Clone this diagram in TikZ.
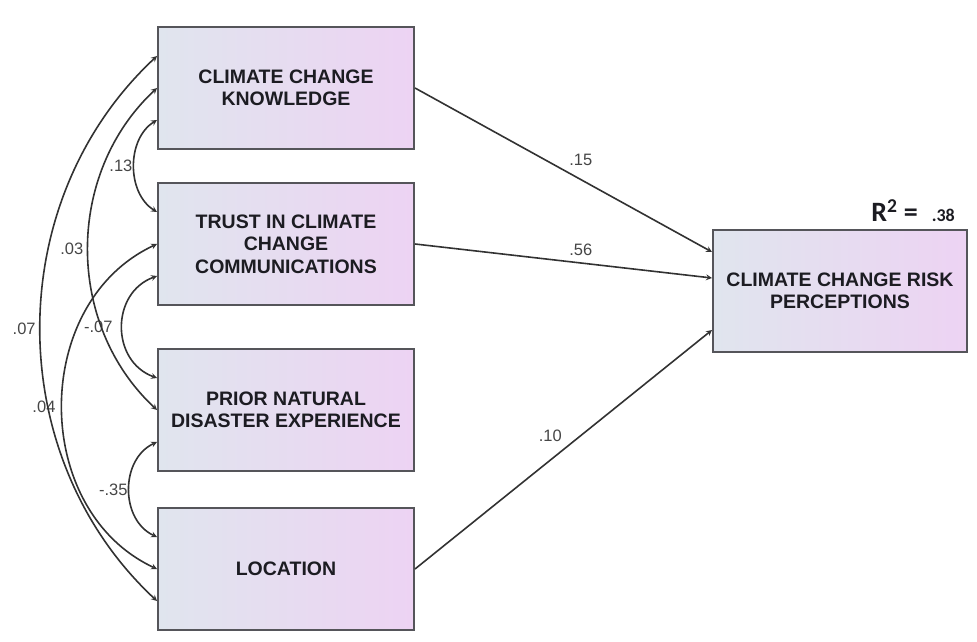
\documentclass[tikz,border=0pt]{standalone}
\usepackage{fontspec}
\setmainfont{Liberation Sans}
\newfontfamily\calibrifont{Carlito}
\usetikzlibrary{positioning}
\usetikzlibrary{arrows}
\definecolor{boxleft}{RGB}{224,229,238}
\definecolor{boxright}{RGB}{237,211,243}
\definecolor{boxline}{RGB}{85,85,90}
\definecolor{arrowline}{RGB}{50,50,50}
\definecolor{coefgray}{RGB}{70,70,70}
\definecolor{textdark}{RGB}{28,28,34}
\tikzset{
  var/.style={draw=boxline, line width=2pt, left color=boxleft, right color=boxright,
    minimum width=256pt, minimum height=122pt, align=center, text=textdark,
    font=\fontsize{19.5}{22.5}\selectfont\bfseries},
  reg/.style={-stealth, draw=arrowline, line width=1.6pt},
  cov/.style={stealth-stealth, draw=arrowline, line width=1.6pt},
  coef/.style={font=\fontsize{16.5}{18}\selectfont, text=coefgray, inner sep=1pt}
}
\begin{document}
\begin{tikzpicture}[x=1pt,y=1pt]
\useasboundingbox (0,0) rectangle (977,641);
% Exogenous variables
\node[var] (know) at (286,553) {CLIMATE CHANGE\\KNOWLEDGE};

\node[var, below=32pt of know] (trust) {TRUST IN CLIMATE\\CHANGE\\COMMUNICATIONS};

\node[var, below=42pt of trust] (prior) {PRIOR NATURAL\\DISASTER EXPERIENCE};

\node[var, below=35pt of prior] (loc) {LOCATION};

% Outcome
\node[var, minimum width=254pt] (risk) at (840,350) {CLIMATE CHANGE RISK\\PERCEPTIONS};

\node[anchor=south east, inner sep=0pt, text=textdark] (rsq) at ([xshift=-13pt,yshift=7pt]risk.north east)
    {\calibrifont\bfseries\fontsize{28}{30}\selectfont R\textsuperscript{2} =\hspace{14pt}\fontsize{18}{20}\selectfont .38};

% Paths
\draw[reg] (know.east) -- ([yshift=39pt]risk.west) node[coef, midway, above right=3pt and 4pt]{.15};
\draw[reg] (trust.east) -- ([yshift=13pt]risk.west) node[coef, midway, above right=4pt and 4pt]{.56};
\draw[reg] (loc.east) -- ([yshift=-39pt]risk.west) node[coef, midway, above left=6pt and 0pt]{.10};

% Covariances
\draw[cov] ([yshift=-32pt]know.west) to[out=212, in=148] node[coef, midway, left]{.13} ([yshift=32pt]trust.west);
\draw[cov] ([yshift=-32pt]trust.west) to[out=200, in=160, looseness=1.24] node[coef, midway, left=8pt]{-.07} ([yshift=32pt]prior.west);
\draw[cov] ([yshift=-32pt]prior.west) to[out=205, in=155, looseness=1.1] node[coef, midway, left]{-.35} ([yshift=32pt]loc.west);
\draw[cov] (know.west) to[out=223, in=137] node[coef, midway, left=3pt]{.03} (prior.west);
\draw[cov] (trust.west) to[out=205, in=155, looseness=1.1] node[coef, midway, left=5pt]{.04} (loc.west);
\draw[cov] ([yshift=32pt]know.west) to[out=223, in=137] node[coef, midway, left=3pt]{.07} ([yshift=-32pt]loc.west);

\end{tikzpicture}
\end{document}
